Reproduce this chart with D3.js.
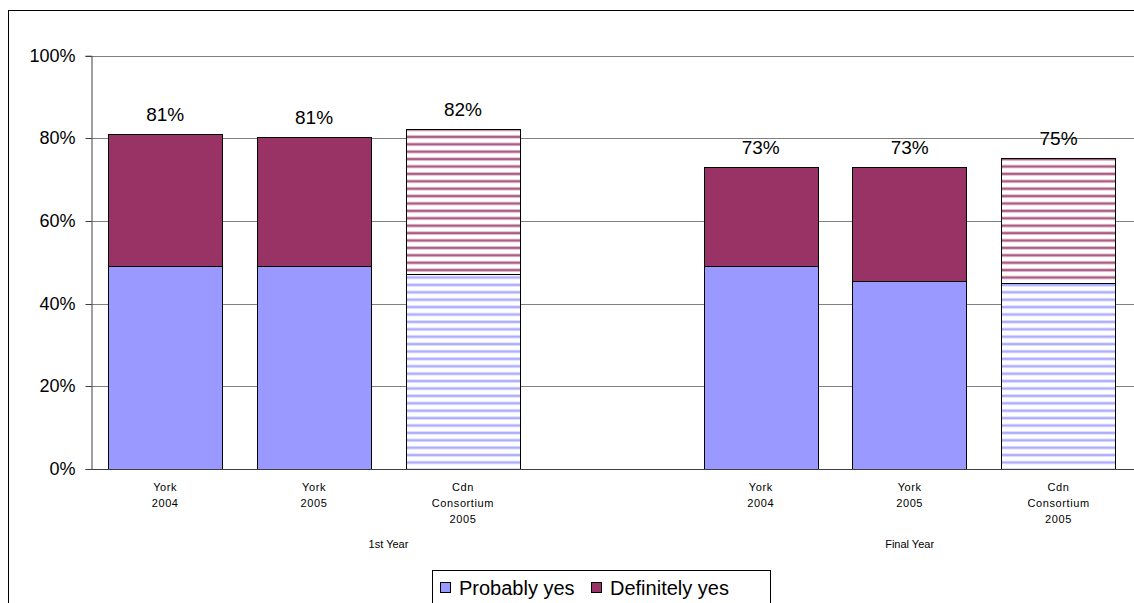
<!DOCTYPE html>
<html><head><meta charset="utf-8">
<script src="https://cdn.jsdelivr.net/npm/d3@7"></script>
<style>body{margin:0;background:#fff;font-family:Arial,"Liberation Sans",sans-serif;}</style>
</head><body><svg id="c" width="1134" height="603"></svg>
<script>
const categories = ["York\n2004","York\n2005","Cdn\nConsortium\n2005","","York\n2004","York\n2005","Cdn\nConsortium\n2005"];
const groups = ["1st Year","Final Year"];
const groupOf = [0,0,0,0,1,1,1];
const probablyYes = [49, 49, 47.2, null, 49, 45.5, 45];
const definitelyYes = [32, 31.4, 35.1, null, 24, 27.5, 30.3];
const totalLabels = ["81%","81%","82%","","73%","73%","75%"];
const patterned = [false,false,true,false,false,false,true];
const yTicks = [0,20,40,60,80,100];
const seriesNames = ["Probably yes","Definitely yes"];
const colors = ["#9999FF","#993366"];

const svg = d3.select("#c");
const defs = svg.append("defs");
colors.forEach((c,i)=>{
  const p = defs.append("pattern").attr("id","pat"+i).attr("patternUnits","userSpaceOnUse")
    .attr("width",8).attr("height",7.4);
  p.append("rect").attr("width",8).attr("height",7.4).attr("fill","#fff");
  p.append("rect").attr("y",2.2).attr("width",8).attr("height",3).attr("fill",c).attr("opacity",0.55);
  p.append("rect").attr("y",3.2).attr("width",8).attr("height",1).attr("fill",c);
});

// outer frame
svg.append("rect").attr("x",8.5).attr("y",10.5).attr("width",1200).attr("height",700)
  .attr("fill","none").attr("stroke","#000").attr("stroke-width",1);

const x0 = 90.7, x1 = 1133, yTop = 55.7, yBot = 469;
const x = d3.scaleBand().domain(d3.range(categories.length)).range([x0,x1]).paddingInner(0.232).paddingOuter(0.116);
const y = d3.scaleLinear().domain([0,100]).range([yBot,yTop]);

// gridlines
svg.append("g").selectAll("line").data(yTicks.filter(t=>t>0)).join("line")
  .attr("x1",x0).attr("x2",1134).attr("y1",d=>Math.round(y(d))+0.5).attr("y2",d=>Math.round(y(d))+0.5)
  .attr("stroke","#808080").attr("stroke-width",1);

// y axis
const yAxis = d3.axisLeft(y).tickValues(yTicks).tickFormat(d=>d+"%").tickSize(6).tickPadding(10);
const ga = svg.append("g").attr("transform",`translate(${Math.round(x0)+0.5},0)`).call(yAxis);
ga.select(".domain").attr("stroke","#404040");
ga.selectAll(".tick line").attr("stroke","#404040");
ga.selectAll(".tick text").attr("font-size",18).attr("font-family","Arial, 'Liberation Sans', sans-serif").attr("fill","#000");
ga.selectAll(".tick").attr("transform",d=>`translate(0,${Math.round(y(d))+0.5})`);

// bars
const bars = svg.append("g");
categories.forEach((c,i)=>{
  if (probablyYes[i]==null) return;
  const xb = x(i), w = x.bandwidth();
  const vals = [probablyYes[i], definitelyYes[i]];
  let base = 0;
  vals.forEach((v,s)=>{
    const yA = y(base+v), yB = y(base);
    bars.append("rect").attr("x",Math.round(xb)+0.5).attr("y",Math.round(yA)+0.5)
      .attr("width",Math.round(w)).attr("height",Math.round(yB)-Math.round(yA))
      .attr("fill",patterned[i] ? `url(#pat${s})` : colors[s])
      .attr("stroke","#000").attr("stroke-width",1);
    base += v;
  });
  svg.append("text").attr("x",xb+w/2).attr("y",y(base)-13).attr("text-anchor","middle")
    .attr("font-size",19).attr("fill","#000").text(totalLabels[i]);
});

// x axis line
svg.append("line").attr("x1",x0).attr("x2",1134).attr("y1",Math.round(yBot)+0.5).attr("y2",Math.round(yBot)+0.5)
  .attr("stroke","#404040");

// category labels
categories.forEach((c,i)=>{
  if (!c) return;
  const t = svg.append("text").attr("text-anchor","middle").attr("font-size",11)
    .attr("letter-spacing",0.6).attr("fill","#000");
  c.split("\n").forEach((ln,k)=>{
    t.append("tspan").attr("x",x(i)+x.bandwidth()/2).attr("y",491+k*16).text(ln);
  });
});
// group labels
const step = x.step();
groups.forEach((g,gi)=>{
  const idx = d3.range(categories.length).filter(i=>groupOf[i]===gi);
  const a = x0 + d3.min(idx)*step, b = x0 + (d3.max(idx)+1)*step;
  svg.append("text").attr("x",(a+b)/2).attr("y",548).attr("text-anchor","middle")
    .attr("font-size",11).attr("fill","#000").text(g);
});

// legend
const lg = svg.append("g");
lg.append("rect").attr("x",432.5).attr("y",570.5).attr("width",338).attr("height",60)
  .attr("fill","#fff").attr("stroke","#000");
const legX = [440, 591];
seriesNames.forEach((n,i)=>{
  lg.append("rect").attr("x",legX[i]+0.5).attr("y",582.5).attr("width",10).attr("height",10)
    .attr("fill",colors[i]).attr("stroke","#000");
  lg.append("text").attr("x",legX[i]+19).attr("y",595).attr("font-size",20).attr("fill","#000").text(n);
});
</script></body></html>
